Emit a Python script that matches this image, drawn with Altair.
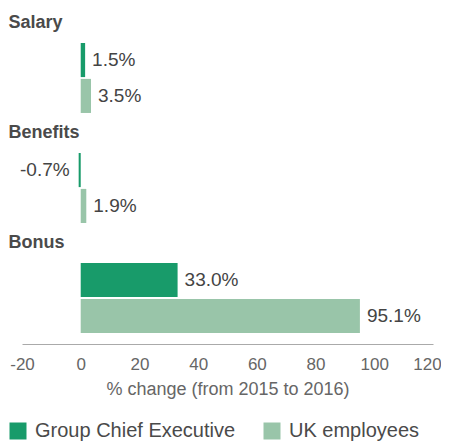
import altair as alt
import pandas as pd

groups = ["Salary", "Benefits", "Bonus"]
series = ["Group Chief Executive", "UK employees"]
gce_values = [1.5, -0.7, 33.0]
uk_values = [3.5, 1.9, 95.1]
x_ticks = [-20, 0, 20, 40, 60, 80, 100, 120]
colors = ["#189b6a", "#99c5a9"]

rows = []
for g, a, b in zip(groups, gce_values, uk_values):
    rows.append({"group": g, "series": series[0], "value": a})
    rows.append({"group": g, "series": series[1], "value": b})
df = pd.DataFrame(rows)

FONT = "Liberation Sans"
GRAY = "#4a4a4a"
LIGHT = "#666666"

x = alt.X(
    "value:Q",
    scale=alt.Scale(domain=[-20, 120], nice=False, zero=False),
    axis=alt.Axis(
        values=x_ticks,
        labelExpr="toString(datum.value)",
        labelFlush=False,
        labelOffset={"condition": {"test": "datum.value == 120", "value": -6}, "value": 0},
        title="% change (from 2015 to 2016)",
        grid=False,
        ticks=False,
        domainColor="#aaaaaa",
        labelFontSize=17,
        labelColor=LIGHT,
        labelFont=FONT,
        labelPadding=12,
        titleFont=FONT,
        titleFontSize=18,
        titleFontWeight="normal",
        titleColor=LIGHT,
        titlePadding=8,
    ),
)
y = alt.Y(
    "group:N",
    sort=groups,
    scale=alt.Scale(paddingInner=0.364, paddingOuter=0.1),
    axis=alt.Axis(
        title=None,
        ticks=False,
        domain=False,
        labelAlign="left",
        labelBaseline="middle",
        labelPadding=14,
        labelOffset=-55,
        labelFontSize=18,
        labelFont=FONT,
        labelFontWeight="bold",
        labelColor=GRAY,
    ),
)
yoff = alt.YOffset("series:N", sort=series, scale=alt.Scale(paddingInner=0.05))
color = alt.Color(
    "series:N",
    sort=series,
    scale=alt.Scale(domain=series, range=colors),
    legend=alt.Legend(
        title=None,
        orient="none",
        direction="horizontal",
        legendX=-14,
        legendY=389,
        symbolType="square",
        symbolSize=289,
        symbolStrokeWidth=0,
        labelFontSize=20,
        labelFont=FONT,
        labelColor=GRAY,
        labelOffset=7,
        labelLimit=400,
        columnPadding=26,
    ),
)

base = alt.Chart(df).transform_calculate(
    label="(datum.value < 0 ? '-' : '') + format(abs(datum.value), '.1f') + '%'"
)
bars = base.mark_bar().encode(x=x, y=y, yOffset=yoff, color=color)

text_style = dict(baseline="middle", fontSize=19, font=FONT, fontWeight="normal", color="#444444")
labels_pos = (
    base.transform_filter("datum.value >= 0")
    .mark_text(align="left", dx=7, **text_style)
    .encode(x="value:Q", y=alt.Y("group:N", sort=groups), yOffset=yoff, text="label:N")
)
labels_neg = (
    base.transform_filter("datum.value < 0")
    .mark_text(align="right", dx=-9, **text_style)
    .encode(x="value:Q", y=alt.Y("group:N", sort=groups), yOffset=yoff, text="label:N")
)

chart = (
    alt.layer(bars, labels_pos, labels_neg)
    .properties(
        width=411,
        height=312,
        autosize=alt.AutoSizeParams(type="none"),
        padding={"left": 14, "top": 24, "right": 8, "bottom": 97},
    )
    .configure_view(stroke=None)
)

chart.save("out.html", embed_options={"renderer": "svg", "actions": False})
